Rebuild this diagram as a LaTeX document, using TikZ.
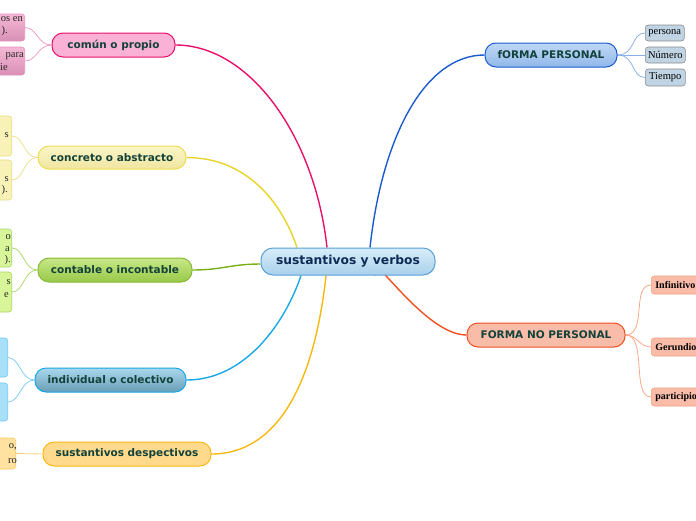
\documentclass[tikz,border=0pt]{standalone}
\usepackage{fontspec}
\setmainfont{Liberation Serif}
\newfontfamily\msans{DejaVu Sans}
\usetikzlibrary{calc,backgrounds}
\definecolor{txtgreen}{HTML}{12423A}
\definecolor{txtnavy}{HTML}{0F2A55}
\definecolor{cmag}{HTML}{E8106A}
\definecolor{cyel}{HTML}{E8D428}
\definecolor{cgrn}{HTML}{78B018}
\definecolor{ccya}{HTML}{18A8E8}
\definecolor{cora}{HTML}{F8B810}
\definecolor{cblu}{HTML}{1A5AD0}
\definecolor{cred}{HTML}{F05020}
\definecolor{centtop}{HTML}{D8EEFA}
\definecolor{centbot}{HTML}{A8D0EA}
\definecolor{centdraw}{HTML}{5AA0D8}
\definecolor{pinkfill}{HTML}{FBB0D5}
\definecolor{yeltop}{HTML}{FAF5C8}
\definecolor{yelbot}{HTML}{F0E6A0}
\definecolor{yeldraw}{HTML}{EEDC50}
\definecolor{grntop}{HTML}{C8E888}
\definecolor{grnbot}{HTML}{98C848}
\definecolor{grndraw}{HTML}{88B838}
\definecolor{cyatop}{HTML}{A8D8EE}
\definecolor{cyabot}{HTML}{6A9EB5}
\definecolor{orafill}{HTML}{FFD98C}
\definecolor{blutop}{HTML}{C0D8F5}
\definecolor{blubot}{HTML}{90B8EA}
\definecolor{salfill}{HTML}{F9BCA8}
\definecolor{persfill}{HTML}{C0D4E4}
\definecolor{saldraw}{HTML}{F0A080}
\definecolor{pinksubtop}{HTML}{F5B8D5}
\definecolor{pinksubbot}{HTML}{D890B5}
\definecolor{pinksubdraw}{HTML}{E890C0}
\definecolor{yelsub}{HTML}{F8F2B8}
\definecolor{yelsubdraw}{HTML}{E8DC80}
\definecolor{grnsub}{HTML}{D8F59A}
\definecolor{grnsubdraw}{HTML}{A8D860}
\definecolor{cyasub}{HTML}{A8E0F8}
\definecolor{cyasubdraw}{HTML}{70C8F0}
\definecolor{orasub}{HTML}{FFE2A0}
\definecolor{orasubdraw}{HTML}{F8C860}
\definecolor{lblu}{HTML}{8AB0E8}
\definecolor{lsal}{HTML}{F8A888}
\definecolor{lpink}{HTML}{F0A0C8}
\definecolor{lyel}{HTML}{F0E090}
\definecolor{lgrn}{HTML}{B0D870}
\definecolor{lcya}{HTML}{80D0F0}
\definecolor{lora}{HTML}{F8D070}
\tikzset{
  mainnode/.style={draw, line width=1pt, rounded corners=11pt, minimum height=24pt, inner sep=0pt,
    font=\msans\bfseries\fontsize{10.5}{12}\selectfont, text=txtgreen},
  subnode/.style={draw, line width=0.6pt, rounded corners=3pt, inner sep=0pt, font=\fontsize{10.5}{11}\selectfont},
  frag/.style={inner sep=0pt, font=\fontsize{10.5}{11}\selectfont, anchor=east, text=black!85},
  link/.style={line width=1.4pt},
  sublink/.style={line width=0.8pt},
  persub/.style={subnode, anchor=west, minimum height=16pt, fill=persfill, draw=black!45},
  npsub/.style={subnode, anchor=west, minimum height=18pt, inner xsep=4pt, fill=salfill, draw=saldraw, font=\bfseries\fontsize{10}{11}\selectfont},
  leftsub/.style={subnode, anchor=east, minimum width=60pt},
}
\begin{document}
\begin{tikzpicture}[x=1pt,y=-1pt]
\path[use as bounding box, clip] (0,0) rectangle (696,520);

% central
\node[mainnode, minimum width=174pt, minimum height=27pt, rounded corners=12pt,
  top color=centtop, bottom color=centbot, draw=centdraw,
  text=txtnavy, font=\msans\bfseries\fontsize{12.3}{14}\selectfont] (c) at (348,261.5) {sustantivos y verbos};

% main nodes left
\node[mainnode, minimum width=123pt, fill=pinkfill, draw=cmag] (cp) at (113.5,45) {común o propio};
\node[mainnode, minimum width=148pt, minimum height=23pt, top color=yeltop, bottom color=yelbot, draw=yeldraw] (ca) at (112,157.5) {concreto o abstracto};
\node[mainnode, minimum width=154pt, top color=grntop, bottom color=grnbot, draw=grndraw] (ci) at (115,270) {contable o incontable};
\node[mainnode, minimum width=151pt, top color=cyatop, bottom color=cyabot, draw=ccya] (ic) at (110.5,380) {individual o colectivo};
\node[mainnode, minimum width=168pt, fill=orafill, draw=cora] (sd) at (127,454) {sustantivos despectivos};

% main nodes right
\node[mainnode, minimum width=132pt, top color=blutop, bottom color=blubot, draw=cblu] (fp) at (551,55) {fORMA PERSONAL};
\node[mainnode, minimum width=158pt, fill=salfill, draw=cred] (fnp) at (546,335) {FORMA NO PERSONAL};

% right subnodes
\node[persub, minimum width=39pt] (pe) at (645,33) {persona};
\node[persub, minimum width=40pt] (nu) at (645,55) {Número};
\node[persub, minimum width=40pt, minimum height=17pt] (ti) at (645,77.5) {Tiempo};

\node[npsub] (inf) at (651,285) {Infinitivo};
\node[npsub] (ger) at (651,347) {Gerundio};
\node[npsub] (par) at (651,397) {participio};

% left subnodes (cut by the frame)
\node[leftsub, minimum height=27pt, top color=pinksubtop, bottom color=pinksubbot, draw=pinksubdraw] (cp1) at (25,27.5) {};
\node[leftsub, minimum height=28pt, top color=pinksubtop, bottom color=pinksubbot, draw=pinksubdraw] (cp2) at (25,61) {};
\node[leftsub, minimum height=40pt, fill=yelsub, draw=yelsubdraw] (ca1) at (12,136) {};
\node[leftsub, minimum height=40pt, fill=yelsub, draw=yelsubdraw] (ca2) at (12,180) {};
\node[leftsub, minimum height=38pt, fill=grnsub, draw=grnsubdraw] (ci1) at (12,248) {};
\node[leftsub, minimum height=40pt, fill=grnsub, draw=grnsubdraw] (ci2) at (12,292) {};
\node[leftsub, minimum height=39pt, fill=cyasub, draw=cyasubdraw] (ic1) at (8,357.5) {};
\node[leftsub, minimum height=38pt, fill=cyasub, draw=cyasubdraw] (ic2) at (8,402) {};
\node[leftsub, minimum height=31pt, fill=orasub, draw=orasubdraw] (sd1) at (16,453.5) {};

% visible text fragments
\node[frag] (f1) at (23,19) {os en};
\node[frag] (f2) at (8,31) {).};
\node[frag] (f3) at (24,56) {para};
\node[frag] (f4) at (8,67) {ie};
\node[frag] (f5) at (9,135) {s};
\node[frag] (f6) at (9,179) {s};
\node[frag] (f7) at (8,190) {).};
\node[frag] (f8) at (11,237) {o};
\node[frag] (f9) at (10,249) {a};
\node[frag] (f10) at (11,260) {).};
\node[frag] (f11) at (11,282) {s};
\node[frag] (f12) at (9,295) {e};
\node[frag] (f13) at (17,447) {o,};
\node[frag] (f14) at (17,461) {ro};

\begin{scope}[on background layer]
% main connectors
\draw[link, cmag] (cp.east) .. controls +(75,0) and +(-12,-110) .. ($(c.north)+(-21,0)$);
\draw[link, cyel] (ca.east) .. controls +(60,0) and +(-15,-45) .. ($(c.north)+(-51,0)$);
\draw[link, cgrn] (ci.east) .. controls +(30,0) and +(-30,0) .. ($(c.west)+(0,2.5)$);
\draw[link, ccya] (ic.east) .. controls +(60,0) and +(-15,45) .. ($(c.south)+(-47,0)$);
\draw[link, cora] (sd.east) .. controls +(65,0) and +(-12,110) .. ($(c.south)+(-22,0)$);
\draw[link, cblu] (fp.west) .. controls +(-60,0) and +(12,-110) .. ($(c.north)+(22,0)$);
\draw[link, cred] (fnp.west) .. controls +(-45,0) and +(-12,-40) .. ($(c.south)+(27,0)$);
% sub connectors right
\draw[sublink, lblu] (fp.east) .. controls +(18,0) and +(-14,0) .. (pe.west);
\draw[sublink, lblu] (fp.east) -- (nu.west);
\draw[sublink, lblu] (fp.east) .. controls +(18,0) and +(-14,0) .. (ti.west);
\draw[sublink, lsal] (fnp.east) .. controls +(22,0) and +(-20,0) .. (inf.west);
\draw[sublink, lsal] (fnp.east) .. controls +(12,0) and +(-12,0) .. (ger.west);
\draw[sublink, lsal] (fnp.east) .. controls +(22,0) and +(-20,0) .. (par.west);
% sub connectors left
\draw[sublink, lpink] (cp.west) .. controls +(-14,0) and +(12,0) .. (cp1.east);
\draw[sublink, lpink] (cp.west) .. controls +(-14,0) and +(12,0) .. (cp2.east);
\draw[sublink, lyel] (ca.west) .. controls +(-14,0) and +(12,0) .. (ca1.east);
\draw[sublink, lyel] (ca.west) .. controls +(-14,0) and +(12,0) .. (ca2.east);
\draw[sublink, lgrn] (ci.west) .. controls +(-14,0) and +(12,0) .. (ci1.east);
\draw[sublink, lgrn] (ci.west) .. controls +(-14,0) and +(12,0) .. (ci2.east);
\draw[sublink, lcya] (ic.west) .. controls +(-14,0) and +(12,0) .. (ic1.east);
\draw[sublink, lcya] (ic.west) .. controls +(-14,0) and +(12,0) .. (ic2.east);
\draw[sublink, lora] (sd.west) -- (sd1.east);
\end{scope}
\end{tikzpicture}
\end{document}
